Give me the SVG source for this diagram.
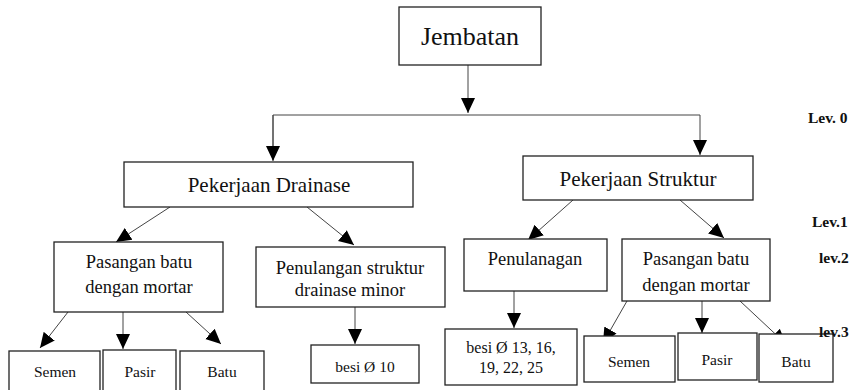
<svg xmlns="http://www.w3.org/2000/svg" width="862" height="390" viewBox="0 0 862 390">
<style>
.box{fill:#fff;stroke:#222;stroke-width:1.3}
.c{fill:none;stroke:#444;stroke-width:1}
</style>
<defs>
<marker id="ah" markerUnits="userSpaceOnUse" markerWidth="16" markerHeight="16" refX="15" refY="7" orient="auto" viewBox="0 0 16 14">
<path d="M0,0 L15,7 L0,14 z" fill="#000"/>
</marker>
</defs>
<rect width="862" height="390" fill="#fff"/>
<g id="connectors">
<line class="c" x1="468" y1="65" x2="468" y2="113" marker-end="url(#ah)"/>
<polyline class="c" points="273,160 273,115 700,115 700,155" marker-end="url(#ah)"/>
<line class="c" x1="273" y1="115" x2="273" y2="161" marker-end="url(#ah)"/>
<line class="c" x1="170" y1="207" x2="116" y2="242" marker-end="url(#ah)"/>
<line class="c" x1="307" y1="207" x2="354" y2="245" marker-end="url(#ah)"/>
<line class="c" x1="573" y1="200" x2="528" y2="240" marker-end="url(#ah)"/>
<line class="c" x1="680" y1="200" x2="724" y2="238" marker-end="url(#ah)"/>
<line class="c" x1="68" y1="312" x2="40" y2="348" marker-end="url(#ah)"/>
<line class="c" x1="123" y1="312" x2="123" y2="349" marker-end="url(#ah)"/>
<line class="c" x1="186" y1="312" x2="221" y2="344" marker-end="url(#ah)"/>
<line class="c" x1="355" y1="307" x2="355" y2="344" marker-end="url(#ah)"/>
<line class="c" x1="514" y1="291" x2="514" y2="328" marker-end="url(#ah)"/>
<line class="c" x1="627" y1="301" x2="603" y2="343" marker-end="url(#ah)"/>
<line class="c" x1="702" y1="301" x2="702" y2="333" marker-end="url(#ah)"/>
<line class="c" x1="740" y1="301" x2="786" y2="344" marker-end="url(#ah)"/>
</g>
<g font-family="Liberation Serif, Times New Roman, serif" fill="#111" text-anchor="middle">
<g id="jembatan"><rect class="box" x="399" y="7" width="142" height="58"/><text x="470" y="45" font-size="26">Jembatan</text></g>
<g id="drainase"><rect class="box" x="124" y="162" width="289" height="45"/><text x="269" y="192" font-size="21">Pekerjaan Drainase</text></g>
<g id="struktur"><rect class="box" x="523" y="156" width="230" height="44"/><text x="638" y="186" font-size="21">Pekerjaan Struktur</text></g>
<g id="pasangan1"><rect class="box" x="54" y="242" width="169" height="70"/><text x="139" y="268" font-size="18.5">Pasangan batu</text><text x="139" y="293" font-size="18.5">dengan mortar</text></g>
<g id="penulangan-drainase"><rect class="box" x="256" y="247" width="189" height="60"/><text x="350" y="274" font-size="18.5">Penulangan struktur</text><text x="350" y="296" font-size="18.5">drainase minor</text></g>
<g id="penulanagan"><rect class="box" x="464" y="239" width="143" height="52"/><text x="535" y="265" font-size="18.5">Penulanagan</text></g>
<g id="pasangan2"><rect class="box" x="622" y="239" width="148" height="62"/><text x="696" y="265" font-size="18.5">Pasangan batu</text><text x="696" y="291" font-size="18.5">dengan mortar</text></g>
<g id="semen1"><rect class="box" x="9" y="351" width="91" height="40"/><text x="55" y="377" font-size="15.5">Semen</text></g>
<g id="pasir1"><rect class="box" x="103" y="350" width="73" height="41"/><text x="140" y="377" font-size="15.5">Pasir</text></g>
<g id="batu1"><rect class="box" x="180" y="351" width="84" height="40"/><text x="222" y="377" font-size="15.5">Batu</text></g>
<g id="besi10"><rect class="box" x="311" y="345" width="108" height="38"/><text x="365" y="372" font-size="15.5">besi Ø 10</text></g>
<g id="besi13"><rect class="box" x="445" y="329" width="132" height="56"/><text x="511" y="353" font-size="16">besi Ø 13, 16,</text><text x="511" y="373" font-size="16">19, 22, 25</text></g>
<g id="semen2"><rect class="box" x="584" y="336" width="91" height="46"/><text x="629" y="367" font-size="15.5">Semen</text></g>
<g id="pasir2"><rect class="box" x="678" y="333" width="79" height="47"/><text x="717" y="365" font-size="15.5">Pasir</text></g>
<g id="batu2"><rect class="box" x="759" y="334" width="74" height="48"/><text x="796" y="367" font-size="15.5">Batu</text></g>
</g>
<g id="levels" font-family="Liberation Serif, Times New Roman, serif" font-weight="bold" font-size="15.5" fill="#111">
<text x="808" y="123">Lev. 0</text>
<text x="812" y="227">Lev.1</text>
<text x="819" y="263">lev.2</text>
<text x="819" y="337">lev.3</text>
</g>
</svg>
